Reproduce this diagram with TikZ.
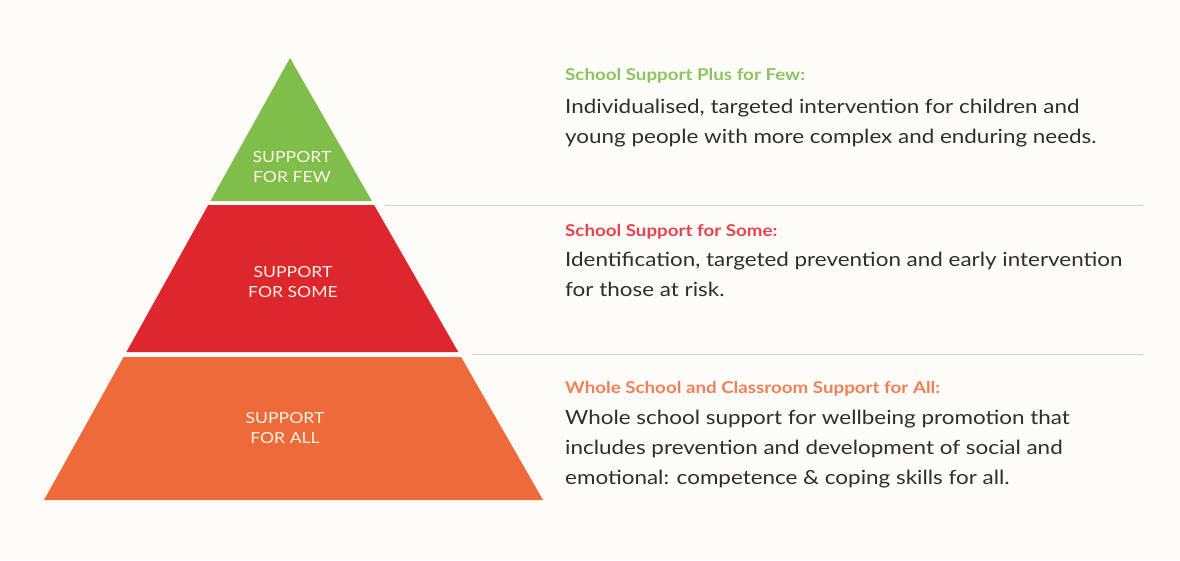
\documentclass[tikz,border=0pt]{standalone}
\usepackage{fontspec}
\setmainfont{Lato}[FakeStretch=1.15]
\definecolor{paper}{RGB}{253,252,249}
\definecolor{fewgreen}{RGB}{128,190,76}
\definecolor{somered}{RGB}{222,38,46}
\definecolor{allorange}{RGB}{238,106,58}
\definecolor{fewhead}{RGB}{140,196,98}
\definecolor{somehead}{RGB}{232,66,76}
\definecolor{allhead}{RGB}{242,128,84}
\definecolor{bodytext}{RGB}{50,44,44}
\definecolor{rule}{RGB}{214,208,202}
\definecolor{tiertext}{RGB}{255,244,226}
\tikzset{
  tierlabel/.style={text=tiertext, font=\fontsize{15.3}{20}\selectfont, align=center, inner sep=0pt},
  headtext/.style={anchor=base west, inner sep=0pt, font=\fontsize{16.3}{20}\selectfont\bfseries},
  % multi-line blocks are placed by the baseline of their last line
  bodyblock/.style={anchor=base west, inner sep=0pt, text=bodytext, align=left,
    font=\fontsize{19.5}{30}\selectfont},
  divider/.style={draw=rule, line width=0.8pt}
}
\begin{document}
\begin{tikzpicture}[x=1pt,y=-1pt]
  % page and background
  \fill[paper] (0,0) rectangle (1180,560);
  \useasboundingbox (0,0) rectangle (1180,560);

  % pyramid tiers (edges run from apex (290,58) to base corners (44,500) and (543,500))
  \fill[fewgreen] (290,58) -- (371.9,201) -- (210.4,201) -- cycle;
  \fill[somered] (208.2,205) -- (374.1,205) -- (458.3,352) -- (126.4,352) -- cycle;
  \fill[allorange] (123.6,357) -- (461.1,357) -- (543,500) -- (44,500) -- cycle;

  % tier labels
  \node[tierlabel] (few) at (292,167) {SUPPORT\\FOR FEW};
  \node[tierlabel] (some) at (293,282) {SUPPORT\\FOR SOME};
  \node[tierlabel] (all) at (285,428) {SUPPORT\\FOR ALL};

  % dividers between the descriptions
  \coordinate (d1a) at (385,205);
  \coordinate (d1b) at (1143,205);
  \coordinate (d2a) at (472,354);
  \coordinate (d2b) at (1143,354);
  \draw[divider] (d1a) -- (d1b);
  \draw[divider] (d2a) -- (d2b);

  % descriptions
  \node[headtext, text=fewhead] (fewhd) at (565,80) {School Support Plus for Few:};
  \node[bodyblock] (fewtx) at (565,143.5) {Individualised, targeted intervention for children and\\young people with more complex and enduring needs.};

  \node[headtext, text=somehead] (somehd) at (565,236.5) {School Support for Some:};
  \node[bodyblock] (sometx) at (565,296.5) {Identification, targeted prevention and early intervention\\for those at risk.};

  \node[headtext, text=allhead] (allhd) at (565,393) {Whole School and Classroom Support for All:};
  \node[bodyblock] (alltx) at (565,484) {Whole school support for wellbeing promotion that\\includes prevention and development of social and\\emotional: competence \& coping skills for all.};
\end{tikzpicture}
\end{document}
